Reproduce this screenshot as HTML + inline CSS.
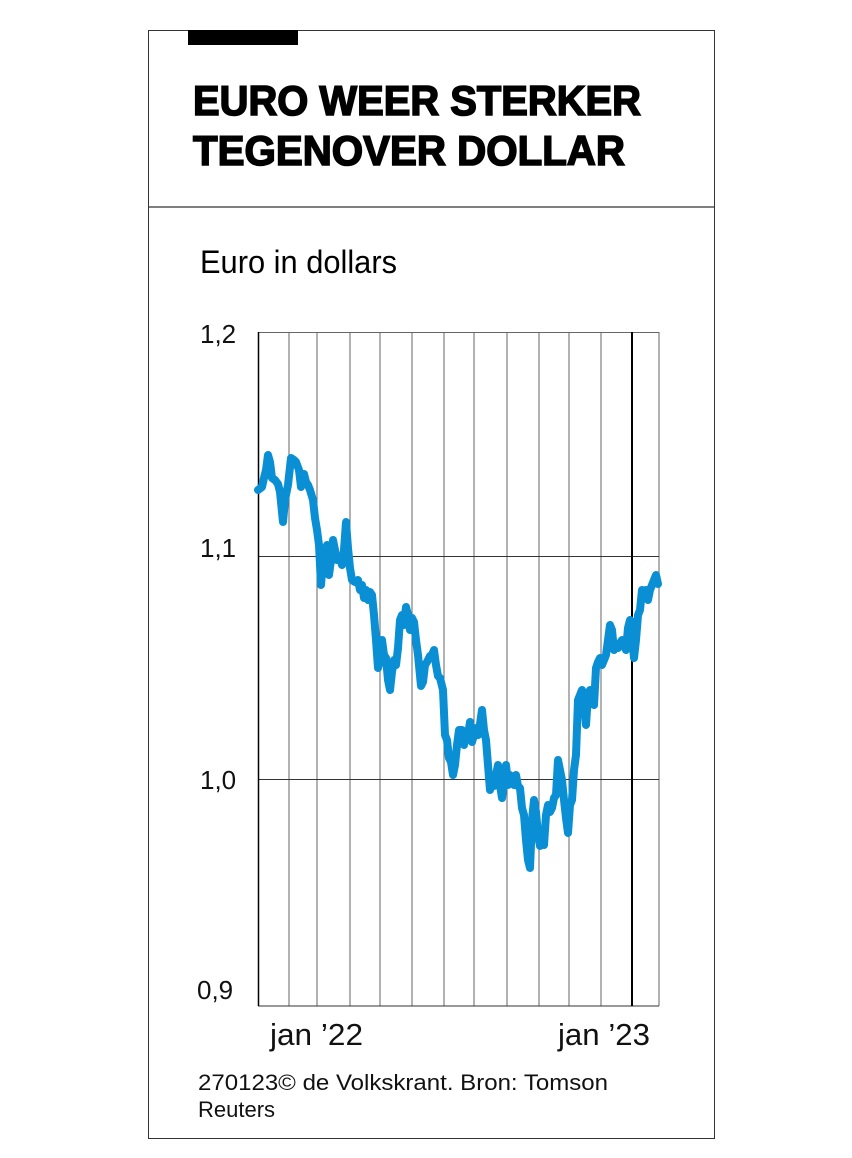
<!DOCTYPE html>
<html><head><meta charset="utf-8"><style>
html,body{margin:0;padding:0;background:#fff}
svg{display:block}
text{font-family:"Liberation Sans",sans-serif}
</style></head><body>
<svg width="852" height="1158" viewBox="0 0 852 1158" xmlns="http://www.w3.org/2000/svg">
<rect x="148.5" y="30.5" width="566" height="1108" fill="#fff" stroke="#333" stroke-width="1"/>
<rect x="188" y="30" width="110" height="15" fill="#000"/>
<text x="193" y="115" font-size="42" font-weight="bold" stroke="#000" stroke-width="1.6" textLength="448" lengthAdjust="spacingAndGlyphs">EURO WEER STERKER</text>
<text x="193" y="165" font-size="42" font-weight="bold" stroke="#000" stroke-width="1.6" textLength="432" lengthAdjust="spacingAndGlyphs">TEGENOVER DOLLAR</text>
<line x1="148" y1="207" x2="714" y2="207" stroke="#333" stroke-width="1.2"/>
<text x="200" y="273" font-size="32" textLength="197" lengthAdjust="spacingAndGlyphs">Euro in dollars</text>
<g stroke="#666" stroke-width="1">
<line x1="289" y1="332" x2="289" y2="1006"/><line x1="317" y1="332" x2="317" y2="1006"/>
<line x1="350" y1="332" x2="350" y2="1006"/><line x1="380" y1="332" x2="380" y2="1006"/>
<line x1="412" y1="332" x2="412" y2="1006"/><line x1="444" y1="332" x2="444" y2="1006"/>
<line x1="474" y1="332" x2="474" y2="1006"/><line x1="507" y1="332" x2="507" y2="1006"/>
<line x1="539" y1="332" x2="539" y2="1006"/><line x1="569" y1="332" x2="569" y2="1006"/>
<line x1="601" y1="332" x2="601" y2="1006"/><line x1="659" y1="332" x2="659" y2="1006"/>
<line x1="258" y1="332.5" x2="659" y2="332.5"/>
</g>
<g stroke="#333" stroke-width="1">
<line x1="258" y1="556.5" x2="659" y2="556.5"/>
<line x1="258" y1="779.5" x2="659" y2="779.5"/>
<line x1="258" y1="1006" x2="659" y2="1006"/>
</g>
<line x1="258.5" y1="332" x2="258.5" y2="1006" stroke="#000" stroke-width="1.5"/>
<line x1="632" y1="332" x2="632" y2="1006" stroke="#000" stroke-width="2"/>
<g font-size="26" fill="#111">
<text x="200" y="343">1,2</text>
<text x="200" y="557">1,1</text>
<text x="200" y="789">1,0</text>
<text x="197" y="999">0,9</text>
</g>
<polyline fill="none" stroke="#0a8fd4" stroke-width="8" stroke-linejoin="round" stroke-linecap="round" points="258,490 262,487 264,478 266,470 268,455 270,462 272,478 275,480 278,484 280,492 283,522 285,500 288,485 291,458 294,460 296,462 299,470 301,487 304,474 306,482 308,485 310,490 313,500 315,518 317,530 319,545 321,585 323,560 325,570 327,545 329,575 331,560 333,540 335,550 337,560 340,558 342,565 344,550 346,522 348,548 350,568 352,580 355,582 358,580 360,590 362,585 364,598 366,590 368,600 370,592 372,595 374,615 376,640 378,668 380,660 382,640 384,655 386,658 388,680 390,690 392,672 394,660 396,665 398,648 400,620 402,615 404,625 406,607 408,615 410,630 412,618 414,622 416,640 418,655 421,686 423,682 425,665 427,662 430,656 432,655 434,650 436,665 438,676 440,678 443,690 445,735 447,740 449,758 451,762 453,775 455,765 457,745 459,730 462,730 464,745 466,733 468,735 470,722 472,742 474,735 476,728 478,735 480,724 482,710 484,730 486,740 488,765 490,790 492,780 494,786 496,775 498,765 500,785 502,798 504,780 506,765 508,785 510,775 512,778 514,785 516,775 518,786 520,788 522,808 524,815 526,840 528,860 530,868 532,820 534,800 536,812 538,835 540,846 542,842 544,845 546,815 548,805 550,812 552,808 554,798 556,795 558,760 560,770 562,780 564,800 566,818 568,833 570,805 572,800 574,770 576,755 578,700 580,695 582,690 584,700 586,725 588,695 590,690 592,700 594,705 596,668 598,662 600,658 602,665 604,660 606,655 608,640 610,625 612,630 614,650 616,645 618,648 620,643 622,640 624,645 626,650 628,628 630,620 632,635 634,658 636,640 638,615 640,610 642,590 644,598 646,590 648,600 650,590 652,585 654,580 656,575 658,584"/>
<g font-size="31" fill="#111">
<text x="270" y="1045" textLength="93" lengthAdjust="spacingAndGlyphs">jan ’22</text>
<text x="558" y="1045" textLength="92" lengthAdjust="spacingAndGlyphs">jan ’23</text>
</g>
<g font-size="22" fill="#111">
<text x="198" y="1090" textLength="410" lengthAdjust="spacingAndGlyphs">270123© de Volkskrant. Bron: Tomson</text>
<text x="198" y="1117">Reuters</text>
</g>
</svg>
</body></html>
